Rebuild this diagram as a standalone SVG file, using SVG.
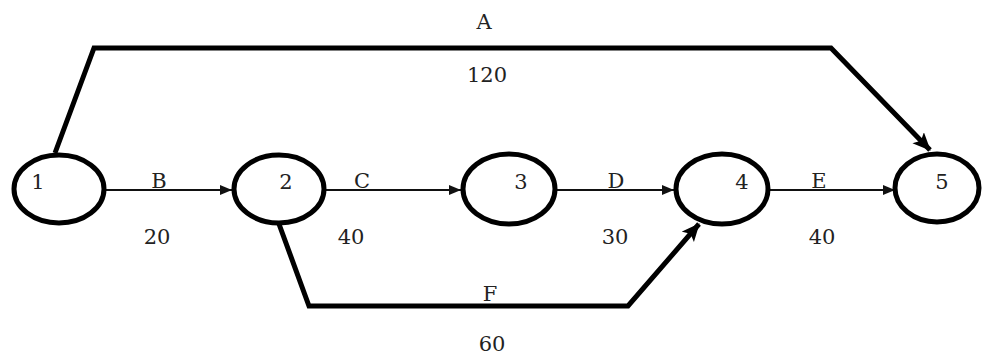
<svg xmlns="http://www.w3.org/2000/svg" width="983" height="358" viewBox="0 0 983 358">
<style>
.node{fill:none;stroke:#000;stroke-width:5}
.thin{fill:none;stroke:#111;stroke-width:2}
.thick{fill:none;stroke:#000;stroke-width:5;stroke-linejoin:miter}
text{font-family:"DejaVu Serif","Liberation Serif",serif;font-size:21px;fill:#222;text-anchor:middle}
</style>
<defs>
<marker id="ah" markerUnits="userSpaceOnUse" markerWidth="14" markerHeight="12" refX="12" refY="5" orient="auto">
<path d="M0,0 L12,5 L0,10 Z" fill="#111"/>
</marker>
<marker id="ahb" markerUnits="userSpaceOnUse" markerWidth="20" markerHeight="18" refX="17" refY="8" orient="auto">
<path d="M0,0 L18,8 L0,16 L4,8 Z" fill="#000"/>
</marker>
</defs>
<rect width="983" height="358" fill="#fff"/>
<g id="connectors">
<g id="edge-A">
<path class="thick" d="M55,153 L94,48 L831,48 L930,150" marker-end="url(#ahb)"/>
<text x="484" y="29">A</text>
<text x="487" y="82">120</text>
</g>
<g id="edge-B">
<line class="thin" x1="105" y1="190" x2="232" y2="190" marker-end="url(#ah)"/>
<text x="159" y="188">B</text>
<text x="157" y="244">20</text>
</g>
<g id="edge-C">
<line class="thin" x1="325" y1="190" x2="461" y2="190" marker-end="url(#ah)"/>
<text x="362" y="188">C</text>
<text x="351" y="244">40</text>
</g>
<g id="edge-D">
<line class="thin" x1="557" y1="190" x2="674" y2="190" marker-end="url(#ah)"/>
<text x="616" y="188">D</text>
<text x="615" y="244">30</text>
</g>
<g id="edge-E">
<line class="thin" x1="770" y1="190" x2="895" y2="190" marker-end="url(#ah)"/>
<text x="819" y="188">E</text>
<text x="822" y="244">40</text>
</g>
<g id="edge-F">
<path class="thick" d="M279,224 L309,306 L628,306 L699,224" marker-end="url(#ahb)"/>
<text x="490" y="301">F</text>
<text x="492" y="351">60</text>
</g>
</g>
<g id="node-1">
<ellipse class="node" cx="59" cy="189" rx="45" ry="34"/>
<text x="38" y="189">1</text>
</g>
<g id="node-2">
<ellipse class="node" cx="279" cy="189" rx="45" ry="34"/>
<text x="286" y="189">2</text>
</g>
<g id="node-3">
<ellipse class="node" cx="509" cy="189" rx="46" ry="35"/>
<text x="521" y="189">3</text>
</g>
<g id="node-4">
<ellipse class="node" cx="722" cy="189" rx="46" ry="35"/>
<text x="742" y="189">4</text>
</g>
<g id="node-5">
<ellipse class="node" cx="937" cy="188" rx="42" ry="34"/>
<text x="942" y="189">5</text>
</g>
</svg>
